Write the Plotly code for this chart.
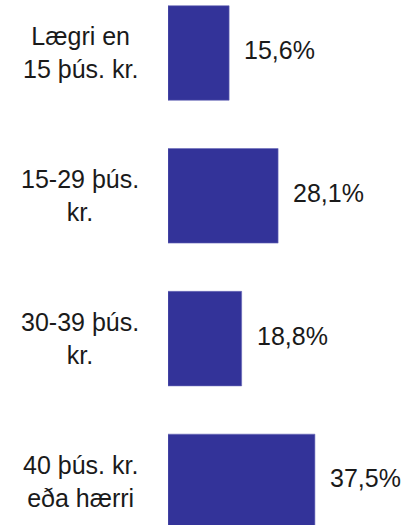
import plotly.graph_objects as go

categories = ["Lægri en<br>15 þús. kr.", "15-29 þús.<br>kr.", "30-39 þús.<br>kr.", "40 þús. kr.<br>eða hærri"]
values = [15.6, 28.1, 18.8, 37.5]
value_labels = ["15,6%", "28,1%", "18,8%", "37,5%"]

bar_color = "#333399"
font_family = "Liberation Sans, Arial, sans-serif"
text_color = "#1a1a1a"

fig = go.Figure()
fig.add_trace(go.Bar(
    x=values,
    y=categories,
    orientation="h",
    marker=dict(color=bar_color, line=dict(width=0.6, color="#6a6ab8")),
    hoverinfo="skip",
))

for cat, val, lab in zip(categories, values, value_labels):
    fig.add_annotation(x=val, y=cat, xref="x", yref="y", text=lab, showarrow=False,
                       xanchor="left", yanchor="middle", xshift=13, yshift=3,
                       font=dict(family=font_family, size=25, color=text_color))
    fig.add_annotation(x=0, y=cat, xref="x", yref="y", text=cat, showarrow=False,
                       xanchor="center", yanchor="middle", xshift=-88, align="center",
                       font=dict(family=font_family, size=25, color=text_color))

fig.update_layout(
    width=405, height=525, autosize=False,
    margin=dict(l=168, r=0, t=0, b=0),
    paper_bgcolor="white", plot_bgcolor="white",
    showlegend=False, bargap=0.338,
    xaxis=dict(range=[0, 60.5], visible=False, fixedrange=True),
    yaxis=dict(range=[3.305, -0.371], showticklabels=False, showgrid=False,
               zeroline=False, showline=False, ticks="", fixedrange=True),
)

fig.write_html("out.html", config={"displayModeBar": False},
               post_script="document.body.style.margin='0';document.body.style.overflow='hidden';")
